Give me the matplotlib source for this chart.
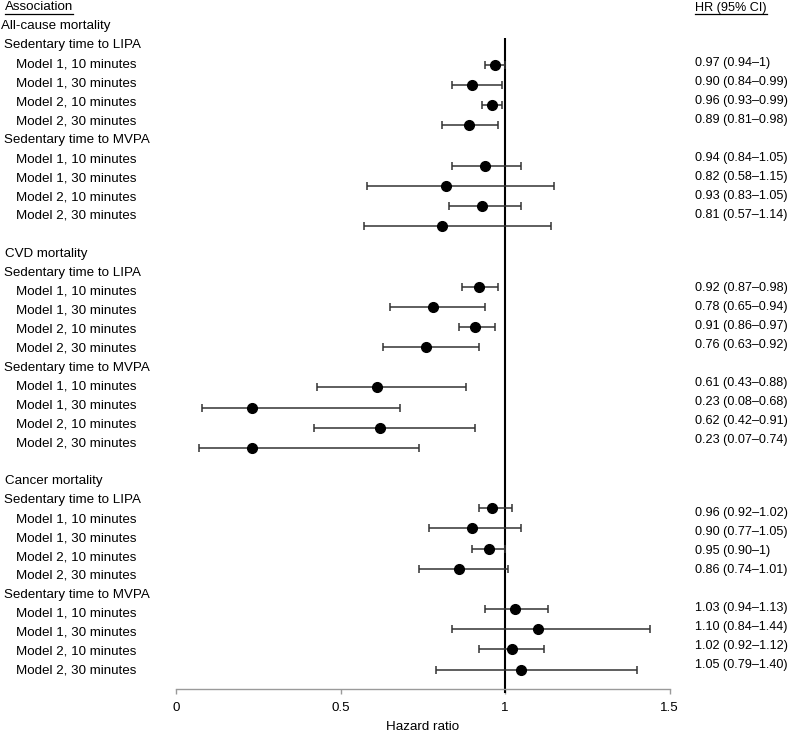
"""Forest plot: hazard ratios for replacing sedentary time with LIPA / MVPA."""
import matplotlib

matplotlib.use("Agg")
import matplotlib.pyplot as plt
from matplotlib.lines import Line2D

plt.rcParams["font.family"] = ["Liberation Sans", "DejaVu Sans"]

OUTCOMES = ["All-cause mortality", "CVD mortality", "Cancer mortality"]
EXPOSURES = ["Sedentary time to LIPA", "Sedentary time to MVPA"]
MODELS = ["Model 1, 10 minutes", "Model 1, 30 minutes",
          "Model 2, 10 minutes", "Model 2, 30 minutes"]

# per outcome -> exposure -> model, in reading order
HR = [0.97, 0.90, 0.96, 0.89, 0.94, 0.82, 0.93, 0.81,
      0.92, 0.78, 0.91, 0.76, 0.61, 0.23, 0.62, 0.23,
      0.96, 0.90, 0.95, 0.86, 1.03, 1.10, 1.02, 1.05]
CI_LOW = [0.94, 0.84, 0.93, 0.81, 0.84, 0.58, 0.83, 0.57,
          0.87, 0.65, 0.86, 0.63, 0.43, 0.08, 0.42, 0.07,
          0.92, 0.77, 0.90, 0.74, 0.94, 0.84, 0.92, 0.79]
CI_HIGH = [1.00, 0.99, 0.99, 0.98, 1.05, 1.15, 1.05, 1.14,
           0.98, 0.94, 0.97, 0.92, 0.88, 0.68, 0.91, 0.74,
           1.02, 1.05, 1.00, 1.01, 1.13, 1.44, 1.12, 1.40]
HR_TEXT = ["0.97 (0.94–1)", "0.90 (0.84–0.99)", "0.96 (0.93–0.99)", "0.89 (0.81–0.98)",
           "0.94 (0.84–1.05)", "0.82 (0.58–1.15)", "0.93 (0.83–1.05)", "0.81 (0.57–1.14)",
           "0.92 (0.87–0.98)", "0.78 (0.65–0.94)", "0.91 (0.86–0.97)", "0.76 (0.63–0.92)",
           "0.61 (0.43–0.88)", "0.23 (0.08–0.68)", "0.62 (0.42–0.91)", "0.23 (0.07–0.74)",
           "0.96 (0.92–1.02)", "0.90 (0.77–1.05)", "0.95 (0.90–1)", "0.86 (0.74–1.01)",
           "1.03 (0.94–1.13)", "1.10 (0.84–1.44)", "1.02 (0.92–1.12)", "1.05 (0.79–1.40)"]
X_TICKS = [0, 0.5, 1, 1.5]
X_TICKLABELS = ["0", "0.5", "1", "1.5"]

W, H = 794, 736
PX_PER_UNIT = 329.0
X0_PX = 176
FS = 9.6
FS_HR = 9.1
LINE_COL = "#333333"


def label_y(k):
    return 7.5 + 18.95 * k


def point_y(j):
    return 65 + 20.15 * j


def text_y(m):
    return 63 + 19.05 * m


def main():
    fig = plt.figure(figsize=(W / 100, H / 100), dpi=100)
    ax = fig.add_axes([0, 0, 1, 1])
    ax.set_xlim(-X0_PX / PX_PER_UNIT, (W - X0_PX) / PX_PER_UNIT)
    ax.set_ylim(H, 0)
    ax.patch.set_alpha(0)

    for side in ("left", "right", "top"):
        ax.spines[side].set_visible(False)
    ax.spines["bottom"].set_position(("data", 689))
    ax.spines["bottom"].set_bounds(0, 1.5)
    ax.spines["bottom"].set_color("#9a9a9a")
    ax.spines["bottom"].set_linewidth(1.0)
    ax.set_yticks([])
    ax.set_xticks(X_TICKS)
    ax.set_xticklabels(X_TICKLABELS)
    ax.tick_params(axis="x", direction="out", length=3.5, width=1.0,
                   color="#9a9a9a", pad=6, labelsize=FS)

    lab = ax.get_yaxis_transform()  # x in axes fraction, y in data (px)

    # left label column
    hdr = ax.text(5 / W, label_y(0), "Association", transform=lab,
                  ha="left", va="center", fontsize=FS)
    ys, ty = [], []
    for s, outcome in enumerate(OUTCOMES):
        k0 = 1 + 12 * s
        ax.text((1 if s == 0 else 5) / W, label_y(k0), outcome, transform=lab,
                ha="left", va="center", fontsize=FS)
        for e, expo in enumerate(EXPOSURES):
            ke = k0 + 1 + 5 * e
            ax.text(4 / W, label_y(ke), expo, transform=lab,
                    ha="left", va="center", fontsize=FS)
            for m, model in enumerate(MODELS):
                ax.text(16 / W, label_y(ke + 1 + m), model, transform=lab,
                        ha="left", va="center", fontsize=FS)
                ys.append(point_y(11 * s + 5 * e + m))
                ty.append(text_y(11.8 * s + 5 * e + m))

    # point estimates with CIs
    err = [[h - lo for h, lo in zip(HR, CI_LOW)],
           [hi - h for h, hi in zip(HR, CI_HIGH)]]
    ax.errorbar(HR, ys, xerr=err, fmt="o", color="black", markersize=7,
                ecolor=LINE_COL, elinewidth=1.1, capsize=3.2, capthick=1.1,
                zorder=3)

    ax.vlines(1, 38, 693, color="black", linewidth=1.5, zorder=2)

    # right HR column
    hr_hdr = ax.text(695 / W, label_y(0), "HR (95% CI)", transform=lab,
                     ha="left", va="center", fontsize=FS_HR)
    for txt, y in zip(HR_TEXT, ty):
        ax.text(695 / W, y, txt, transform=lab, ha="left", va="center",
                fontsize=FS_HR)

    ax.text(0.5 * (0 + 1.5), 727, "Hazard ratio", ha="center", va="center",
            fontsize=FS)

    # underline headers
    fig.canvas.draw()
    r = fig.canvas.get_renderer()
    for t in (hdr, hr_hdr):
        bb = t.get_window_extent(renderer=r)
        yline = bb.y0 - 0.5
        fig.add_artist(Line2D([bb.x0 / W, bb.x1 / W], [yline / H, yline / H],
                              color="black", linewidth=0.9))

    fig.savefig("out.png", dpi=100, facecolor="white")


if __name__ == "__main__":
    main()
